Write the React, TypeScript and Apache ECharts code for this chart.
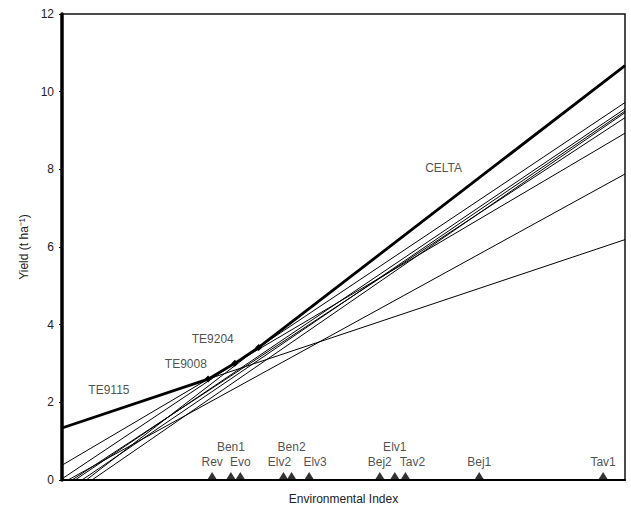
import React, { useEffect, useRef } from "react";
import * as echarts from "echarts";

// Environmental index range of the plot (axis has no tick labels)
const xMin = 0;
const xMax = 9;

// Genotype regression lines: yield at the lowest and highest environmental index
const genotypes = ["CELTA", "TE9204", "TE9008", "TE9115", "G5", "G6", "G7", "G8", "G9"];
const yieldAtMin = [-0.48, 0.03, 0.38, 1.34, -0.085, -0.169, -0.226, -0.35, -0.532];
const yieldAtMax = [10.67, 9.72, 8.93, 6.19, 7.88, 9.33, 9.56, 9.5, 9.46];

// Environments (triangles on the x axis)
const envNames = ["Rev", "Ben1", "Evo", "Elv2", "Ben2", "Elv3", "Bej2", "Elv1", "Tav2", "Bej1", "Tav1"];
const envIndex = [2.4, 2.7, 2.85, 3.54, 3.67, 3.95, 5.08, 5.32, 5.49, 6.67, 8.65];
const upperRowEnvs = ["Ben1", "Ben2", "Elv1"];

// Annotated genotypes (labels next to the upper envelope)
const annotNames = ["CELTA", "TE9204", "TE9008", "TE9115"];
const annotX = [6.1, 2.41, 1.98, 0.75];
const annotY = [8.03, 3.62, 3.0, 2.32];

// Y axis
const yMin = 0;
const yMax = 12;
const yInterval = 2;

const FONT = "'Liberation Sans', Arial, sans-serif";
const labelShift: Record<string, number> = { Elv2: -4, Elv3: 6, Tav2: 7 };

function buildEnvelope() {
  const lines = genotypes.map((_, i) => ({
    a: yieldAtMin[i],
    b: (yieldAtMax[i] - yieldAtMin[i]) / (xMax - xMin),
  }));
  const val = (x: number) => Math.max(...lines.map((l) => l.a + l.b * (x - xMin)));
  const xs: number[] = [xMin, xMax];
  for (let i = 0; i < lines.length; i++) {
    for (let j = i + 1; j < lines.length; j++) {
      const db = lines[i].b - lines[j].b;
      if (Math.abs(db) < 1e-9) continue;
      const x = xMin + (lines[j].a - lines[i].a) / db;
      if (x > xMin && x < xMax) xs.push(x);
    }
  }
  xs.sort((p, q) => p - q);
  const uniq: number[] = [];
  xs.forEach((x) => {
    if (!uniq.length || Math.abs(x - uniq[uniq.length - 1]) > 1e-7) uniq.push(x);
  });
  const pts = uniq.map((x) => [x, val(x)]);
  const verts: number[][] = [pts[0]];
  for (let k = 1; k < pts.length - 1; k++) {
    const s1 = (pts[k][1] - pts[k - 1][1]) / (pts[k][0] - pts[k - 1][0]);
    const s2 = (pts[k + 1][1] - pts[k][1]) / (pts[k + 1][0] - pts[k][0]);
    if (Math.abs(s1 - s2) > 1e-6) verts.push(pts[k]);
  }
  verts.push(pts[pts.length - 1]);
  return verts;
}

export default function App() {
  const ref = useRef<HTMLDivElement>(null);
  useEffect(() => {
    document.body.style.margin = "0";
    if (!ref.current) return;
    const chart = echarts.init(ref.current, null, { renderer: "svg" });
    const env = buildEnvelope();
    const envData = env.map((p, k) => ({
      value: p,
      symbol: k === 0 || k === env.length - 1 ? "none" : "diamond",
      symbolSize: 7,
    }));

    const lineSeries = genotypes.map((g, i) => ({
      type: "line",
      name: g,
      data: [
        [xMin, yieldAtMin[i]],
        [xMax, yieldAtMax[i]],
      ],
      symbol: "none",
      lineStyle: { color: "#000", width: 1 },
      silent: true,
      z: 2,
    }));

    chart.setOption({
      animation: false,
      grid: {
        left: 62,
        right: 6,
        top: 14,
        bottom: 28,
        show: true,
        borderColor: "#111",
        borderWidth: 1.5,
      },
      xAxis: {
        type: "value",
        min: xMin,
        max: xMax,
        axisLabel: { show: false },
        axisTick: { show: false },
        splitLine: { show: false },
        axisLine: { lineStyle: { color: "#000", width: 2 } },
        name: "Environmental Index",
        nameLocation: "middle",
        nameGap: 13,
        nameTextStyle: { fontFamily: FONT, fontSize: 12, color: "#222" },
      },
      yAxis: {
        type: "value",
        min: yMin,
        max: yMax,
        interval: yInterval,
        splitLine: { show: false },
        axisLine: { lineStyle: { color: "#000", width: 3.5 } },
        axisTick: { show: true, length: 3, lineStyle: { color: "#000", width: 1 } },
        axisLabel: { fontFamily: FONT, fontSize: 12, color: "#222", margin: 8 },
        name: "Yield (t ha\u207B\u00B9)",
        nameLocation: "middle",
        nameGap: 31,
        nameRotate: 90,
        nameTextStyle: { fontFamily: FONT, fontSize: 12, color: "#222" },
      },
      series: [
        ...lineSeries,
        {
          type: "line",
          name: "envelope",
          data: envData,
          lineStyle: { color: "#000", width: 2.8 },
          itemStyle: { color: "#000" },
          silent: true,
          z: 3,
        },
        {
          type: "scatter",
          name: "environments",
          data: envNames.map((n, i) => ({
            name: n,
            value: [envIndex[i], 0],
            label: {
              distance: upperRowEnvs.includes(n) ? 19 : 4,
              offset: [labelShift[n] || 0, 0],
            },
          })),
          symbol: "triangle",
          symbolSize: [10, 8],
          symbolOffset: [0, -4],
          itemStyle: { color: "#000" },
          clip: false,
          silent: true,
          label: {
            show: true,
            position: "top",
            formatter: "{b}",
            fontFamily: FONT,
            fontSize: 12,
            color: "#222",
          },
          z: 4,
        },
        {
          type: "scatter",
          name: "annotations",
          data: annotNames.map((n, i) => ({ name: n, value: [annotX[i], annotY[i]] })),
          symbolSize: 0,
          silent: true,
          label: {
            show: true,
            position: "inside",
            formatter: "{b}",
            fontFamily: FONT,
            fontSize: 12,
            color: "#222",
          },
          z: 5,
        },
      ],
    });
    return () => chart.dispose();
  }, []);
  return <div ref={ref} style={{ width: 631, height: 510 }} />;
}
